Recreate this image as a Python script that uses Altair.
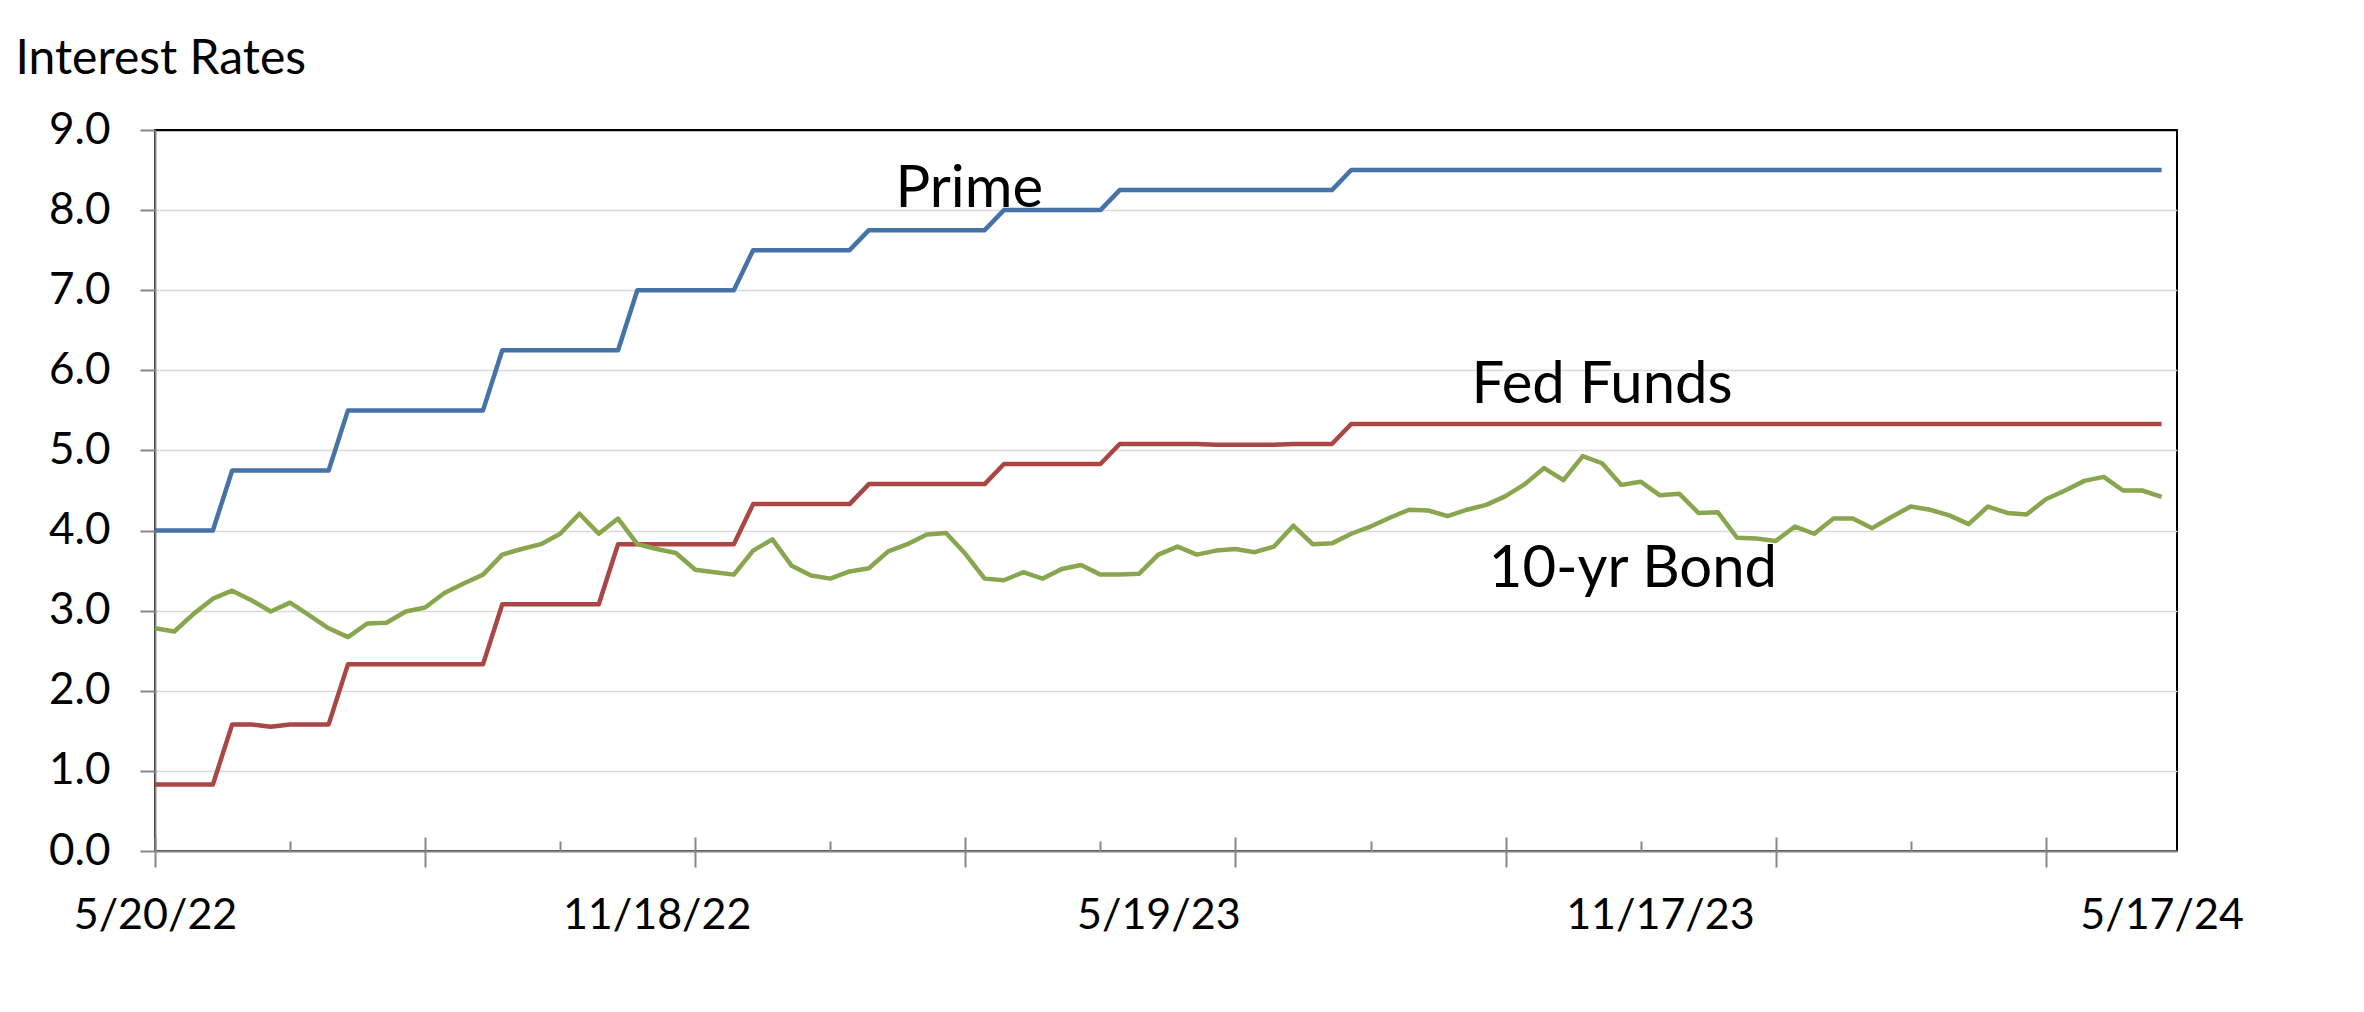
import altair as alt
import pandas as pd

# ---- data (weekly observations, index 0 = 5/20/22 ... 104 = 5/17/24) ----
WEEK = list(range(105))

PRIME = [
    4.00, 4.00, 4.00, 4.00, 4.75, 4.75, 4.75, 4.75, 4.75, 4.75,
    5.50, 5.50, 5.50, 5.50, 5.50, 5.50, 5.50, 5.50, 6.25, 6.25,
    6.25, 6.25, 6.25, 6.25, 6.25, 7.00, 7.00, 7.00, 7.00, 7.00,
    7.00, 7.50, 7.50, 7.50, 7.50, 7.50, 7.50, 7.75, 7.75, 7.75,
    7.75, 7.75, 7.75, 7.75, 8.00, 8.00, 8.00, 8.00, 8.00, 8.00,
    8.25, 8.25, 8.25, 8.25, 8.25, 8.25, 8.25, 8.25, 8.25, 8.25,
    8.25, 8.25, 8.50, 8.50, 8.50, 8.50, 8.50, 8.50, 8.50, 8.50,
    8.50, 8.50, 8.50, 8.50, 8.50, 8.50, 8.50, 8.50, 8.50, 8.50,
    8.50, 8.50, 8.50, 8.50, 8.50, 8.50, 8.50, 8.50, 8.50, 8.50,
    8.50, 8.50, 8.50, 8.50, 8.50, 8.50, 8.50, 8.50, 8.50, 8.50,
    8.50, 8.50, 8.50, 8.50, 8.50,
]

FED_FUNDS = [
    0.83, 0.83, 0.83, 0.83, 1.58, 1.58, 1.55, 1.58, 1.58, 1.58,
    2.33, 2.33, 2.33, 2.33, 2.33, 2.33, 2.33, 2.33, 3.08, 3.08,
    3.08, 3.08, 3.08, 3.08, 3.83, 3.83, 3.83, 3.83, 3.83, 3.83,
    3.83, 4.33, 4.33, 4.33, 4.33, 4.33, 4.33, 4.58, 4.58, 4.58,
    4.58, 4.58, 4.58, 4.58, 4.83, 4.83, 4.83, 4.83, 4.83, 4.83,
    5.08, 5.08, 5.08, 5.08, 5.08, 5.07, 5.07, 5.07, 5.07, 5.08,
    5.08, 5.08, 5.33, 5.33, 5.33, 5.33, 5.33, 5.33, 5.33, 5.33,
    5.33, 5.33, 5.33, 5.33, 5.33, 5.33, 5.33, 5.33, 5.33, 5.33,
    5.33, 5.33, 5.33, 5.33, 5.33, 5.33, 5.33, 5.33, 5.33, 5.33,
    5.33, 5.33, 5.33, 5.33, 5.33, 5.33, 5.33, 5.33, 5.33, 5.33,
    5.33, 5.33, 5.33, 5.33, 5.33,
]

TEN_YR = [
    2.78, 2.74, 2.96, 3.15, 3.25, 3.13, 2.99, 3.10, 2.94, 2.78,
    2.67, 2.84, 2.85, 2.99, 3.04, 3.22, 3.34, 3.45, 3.70, 3.77,
    3.83, 3.96, 4.21, 3.96, 4.15, 3.83, 3.77, 3.72, 3.51, 3.48,
    3.45, 3.75, 3.89, 3.56, 3.44, 3.40, 3.49, 3.53, 3.74, 3.83,
    3.95, 3.97, 3.71, 3.40, 3.38, 3.48, 3.40, 3.52, 3.57, 3.45,
    3.45, 3.46, 3.70, 3.80, 3.70, 3.75, 3.77, 3.73, 3.80, 4.06,
    3.83, 3.84, 3.96, 4.05, 4.16, 4.26, 4.25, 4.18, 4.26, 4.32,
    4.43, 4.58, 4.78, 4.63, 4.93, 4.84, 4.57, 4.61, 4.44, 4.46,
    4.22, 4.23, 3.91, 3.90, 3.87, 4.05, 3.96, 4.15, 4.15, 4.03,
    4.17, 4.30, 4.26, 4.19, 4.08, 4.30, 4.22, 4.20, 4.39, 4.50,
    4.62, 4.67, 4.50, 4.50, 4.42,
]

SERIES = ["Prime", "Fed Funds", "10-yr Bond"]
COLORS = ["#4572A7", "#AA4643", "#89A54E"]

X_LABELS = ["5/20/22", "11/18/22", "5/19/23", "11/17/23", "5/17/24"]
X_LABEL_POS = [0, 26, 52, 78, 104]
MAJOR_TICKS = [0, 14, 28, 42, 56, 70, 84, 98]
MINOR_TICKS = [7, 21, 35, 49, 63, 77, 91]
Y_TICKS = [0, 1, 2, 3, 4, 5, 6, 7, 8, 9]

ANN_TEXT = ["Prime", "Fed Funds", "10-yr Bond"]
ANN_X = [42.2, 75.0, 76.6]
ANN_Y = [8.04, 5.59, 3.29]

FONT = "Lato"
AXIS_GRAY = "#868686"

df = pd.DataFrame({
    "week": WEEK * 3,
    "rate": PRIME + FED_FUNDS + TEN_YR,
    "series": ["Prime"] * len(PRIME) + ["Fed Funds"] * len(FED_FUNDS) + ["10-yr Bond"] * len(TEN_YR),
})

xscale = alt.Scale(domain=[0, 104.8], nice=False, zero=False)
yscale = alt.Scale(domain=[0, 9], nice=False)

label_expr = ""
for pos, lab in zip(X_LABEL_POS, X_LABELS):
    label_expr += f"datum.value == {pos} ? '{lab}' : "
label_expr += "''"

x_label_axis = alt.Axis(
    values=X_LABEL_POS, labelExpr=label_expr, orient="bottom",
    ticks=False, tickSize=0, grid=False, title=None,
    domain=True, domainColor=AXIS_GRAY, domainWidth=2,
    labelFont=FONT, labelFontSize=43, labelColor="black",
    labelBaseline="alphabetic", labelPadding=77, labelLimit=0,
    labelOverlap=False, labelFlush=False,
)

y_axis = alt.Axis(
    values=Y_TICKS, format=".1f", orient="left",
    tickSize=15, tickColor=AXIS_GRAY, tickWidth=2,
    domainColor=AXIS_GRAY, domainWidth=2,
    labelFont=FONT, labelFontSize=44, labelColor="black", labelPadding=30,
    grid=True, gridWidth=1.5,
    gridColor=alt.condition("datum.value == 9", alt.value("black"), alt.value("#D9D9D9")),
    title="Interest Rates", titleAngle=0, titleX=-140, titleY=-57,
    titleAlign="left", titleBaseline="alphabetic",
    titleFont=FONT, titleFontSize=48, titleFontWeight="normal", titleColor="black",
)

lines = alt.Chart(df).mark_line(strokeWidth=4.5, strokeJoin="round").encode(
    x=alt.X("week:Q", scale=xscale, axis=x_label_axis),
    y=alt.Y("rate:Q", scale=yscale, axis=y_axis),
    color=alt.Color("series:N", scale=alt.Scale(domain=SERIES, range=COLORS), legend=None),
    detail="series:N",
)

major = alt.Chart(pd.DataFrame({"week": MAJOR_TICKS})).mark_point(opacity=0).encode(
    x=alt.X("week:Q", scale=xscale, axis=alt.Axis(
        values=MAJOR_TICKS, orient="bottom", offset=-14, tickSize=30,
        tickColor=AXIS_GRAY, tickWidth=2, labels=False, domain=False,
        grid=False, title=None)),
)

minor = alt.Chart(pd.DataFrame({"week": MINOR_TICKS})).mark_point(opacity=0).encode(
    x=alt.X("week:Q", scale=xscale, axis=alt.Axis(
        values=MINOR_TICKS, orient="bottom", offset=-10, tickSize=10,
        tickColor=AXIS_GRAY, tickWidth=2, labels=False, domain=False,
        grid=False, title=None)),
)

ann = alt.Chart(pd.DataFrame({"label": ANN_TEXT, "x": ANN_X, "y": ANN_Y})).mark_text(
    font=FONT, fontSize=58, color="black", align="center", baseline="alphabetic"
).encode(
    x=alt.X("x:Q", scale=xscale, axis=None),
    y=alt.Y("y:Q", scale=yscale),
    text="label:N",
)

chart = alt.layer(lines, major, minor, ann).resolve_axis(x="independent").properties(
    width=2022, height=721,
    autosize=alt.AutoSizeParams(type="none"),
    padding={"left": 147, "top": 122, "right": 175, "bottom": 150},
    background="white",
).configure_view(stroke="black", strokeWidth=2)

chart.save("out.html", embed_options={"renderer": "svg", "actions": False})
